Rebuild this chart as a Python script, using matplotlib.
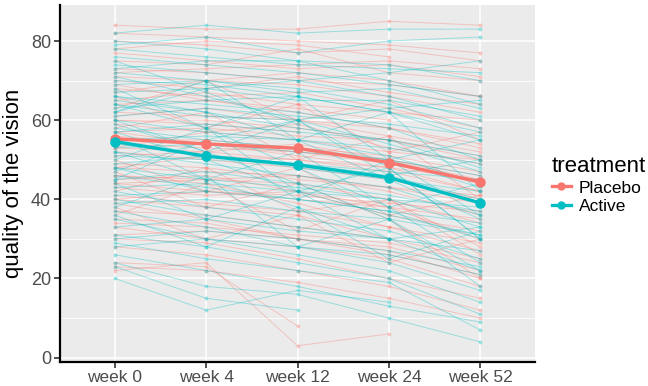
import matplotlib
matplotlib.use("Agg")
import matplotlib.pyplot as plt
from matplotlib.lines import Line2D
import numpy as np

weeks = ["week 0", "week 4", "week 12", "week 24", "week 52"]
groups = ["Placebo", "Active"]
colors = {"Placebo": "#F8766D", "Active": "#00BFC4"}

N = None
placebo_subjects = [
    [84, 83, 83, 85, 84], [75, 74, 78, 72, 70], [71, 70, 69, 66, 62], [68, 66, 67, 63, 58],
    [66, 58, 64, 52, 57], [62, 61, 60, 58, 54], [60, 60, 58, 55, 50], [58, 62, 50, 56, 40],
    [56, 54, 52, 50, 45], [54, 53, 52, 49, 44], [52, 50, 48, 45, 40], [50, 42, 48, 36, 41],
    [48, 47, 46, 42, 36], [46, 45, 44, 40, 34], [44, 42, 40, 38, 30], [42, 48, 37, 40, 26],
    [40, 38, 36, 30, 25], [38, 30, 36, 24, 30], [35, 34, 30, 28, 22], [33, 30, 28, 25, 18],
    [80, 79, 77, 78, 75], [78, 80, 79, 76, N], [73, 72, 70, 69, 66], [70, 68, 71, 67, 64],
    [65, 67, 64, 62, 60], [63, 70, 60, 65, 55], [61, 63, 60, 56, 52], [57, 58, 56, 55, 51],
    [55, 55, 53, 51, 47], [53, 52, 54, 50, 46], [51, 52, 50, 47, 42], [49, 48, 45, 43, 39],
    [47, 38, 44, 35, 20], [45, 46, 42, 38, 35], [43, 41, 42, 36, 32], [41, 39, 37, 33, 27],
    [39, 35, 30, 27, 20], [37, 36, 33, 30, N], [22, 24, 3, 6, N], [24, 23, 8, N, N],
    [28, 26, 22, 18, 12], [30, 29, 25, 20, 15], [23, 22, 19, 15, 10], [67, 70, 72, 70, 66],
    [72, 73, 74, 75, 73], [59, 57, 59, 53, 49], [57, 54, 51, 48, 42], [53, 57, 55, 52, 50],
    [48, 51, 50, 48, 45], [46, 44, 39, 33, 29], [44, 45, 46, 43, 41], [40, 42, 41, 39, 37],
    [36, 44, 32, 40, 28], [60, 59, 57, N, N], [64, 65, 63, 60, N], [69, 65, 62, 58, 53],
    [82, 81, 80, 79, 77], [77, 75, 73, 74, 71], [34, 33, 31, 29, 24], [31, 32, 30, 26, 21],
]
active_subjects = [
    [82, 84, 82, 83, 83], [80, 78, 75, 70, 64], [78, 76, 74, 73, 72], [76, 74, 72, 69, 66],
    [74, 72, 70, 66, 60], [72, 70, 68, 64, 58], [70, 69, 66, 62, 55], [68, 58, 66, 50, 55],
    [66, 64, 62, 58, 50], [65, 62, 58, 55, 48], [64, 61, 60, 54, 47], [62, 70, 55, 62, 42],
    [60, 57, 55, 51, 44], [58, 55, 53, 50, 43], [56, 45, 52, 38, 44], [54, 51, 49, 46, 40],
    [52, 49, 46, 43, 36], [50, 58, 42, 48, 30], [48, 45, 43, 40, 33], [46, 43, 40, 37, 30],
    [44, 35, 42, 30, 33], [42, 38, 35, 32, 25], [40, 36, 33, 30, 22], [38, 46, 28, 35, 18],
    [37, 33, 28, 24, 17], [35, 30, 26, 22, 14], [31, 28, 24, 20, 11], [29, 25, 22, 19, 7],
    [26, 22, 18, 13, 9], [24, 18, 16, 10, 4], [23, 15, 12, N, N], [20, 12, 17, 14, N],
    [79, 81, 77, 80, 81], [73, 75, 75, 74, 70], [69, 70, 67, 68, 63], [67, 68, 65, 65, 61],
    [63, 65, 66, 62, 57], [61, 63, 61, 59, 56], [59, 52, 60, 46, 50], [57, 59, 57, 55, 51],
    [55, 56, 55, 53, 49], [53, 54, 52, 50, 46], [51, 50, 49, 47, 45], [49, 51, 48, 45, 42],
    [47, 55, 40, 50, 36], [45, 47, 44, 41, 37], [43, 44, 42, 40, 38], [41, 42, 40, 37, 34],
    [39, 40, 37, 35, 31], [36, 28, 38, 25, 32], [33, 35, 32, 30, 27], [30, 32, 30, 27, 23],
    [28, 30, 28, 26, 21], [66, 62, 55, 45, 35], [71, 66, 60, 48, 30], [64, 58, 48, 38, 24],
    [60, 52, 44, 35, 22], [75, 67, 59, N, N], [52, 45, 38, 30, N], [48, 42, N, N, N],
    [62, 68, 70, 72, 75], [45, 55, 60, 63, 65], [57, 50, 42, 36, 31],
]
placebo_mean = [55.3, 54.0, 52.9, 49.3, 44.4]
active_mean = [54.6, 50.9, 48.7, 45.5, 39.1]

subjects = {"Placebo": placebo_subjects, "Active": active_subjects}
means = {"Placebo": placebo_mean, "Active": active_mean}

fig = plt.figure(figsize=(6.48, 3.86), dpi=100)
ax = fig.add_axes([60/648, 1-362/386, 475/648, 357/386])
ax.set_facecolor("#EBEBEB")
font = "Liberation Sans"

x = np.arange(len(weeks))
for g in groups:
    for s in subjects[g]:
        yv = np.array([np.nan if v is None else v for v in s], dtype=float)
        ax.plot(x, yv, color=colors[g], alpha=0.35, lw=0.7, marker="o", ms=2.8,
                mew=0, zorder=2)
for g in ["Placebo", "Active"]:
    ax.plot(x, means[g], color=colors[g], lw=2.4, marker="o", ms=6.5, zorder=4)

ax.set_xlim(-0.6, 4.6)
ax.set_ylim(-1.1, 89.1)
ax.set_yticks([0, 20, 40, 60, 80])
ax.set_yticks([10, 30, 50, 70], minor=True)
ax.set_xticks(x)
ax.set_xticklabels(weeks)
ax.grid(True, which="major", color="white", lw=1.1, zorder=0)
ax.grid(True, which="minor", axis="y", color="white", lw=0.55, zorder=0)
ax.set_axisbelow(True)
ax.tick_params(which="minor", length=0)
ax.tick_params(axis="x", which="major", length=4, width=1.2, color="#333333",
               labelcolor="#4D4D4D", labelsize=12.5, pad=1.5)
ax.tick_params(axis="y", which="major", length=4, width=1.2, color="#333333",
               labelcolor="#4D4D4D", labelsize=13, pad=2.5)
for lab in ax.get_xticklabels() + ax.get_yticklabels():
    lab.set_fontfamily(font)
for sp in ["top", "right"]:
    ax.spines[sp].set_visible(False)
for sp in ["left", "bottom"]:
    ax.spines[sp].set_color("black")
    ax.spines[sp].set_linewidth(1.6)
ax.set_ylabel("quality of the vision", fontsize=16, fontfamily=font, labelpad=5)

handles = [Line2D([0], [0], color=colors[g], lw=2.4, marker="o", ms=5) for g in groups]
leg = fig.legend(handles, groups, loc="upper left", bbox_to_anchor=(545/648, 1-149/386),
                 frameon=False, title="treatment", handlelength=1.1,
                 prop={"family": font, "size": 12.5}, labelspacing=0.2,
                 handletextpad=0.45, borderaxespad=0)
leg.get_title().set_fontsize(16)
leg.get_title().set_fontfamily(font)
leg._legend_box.align = "left"

fig.savefig("out.png", dpi=100)
